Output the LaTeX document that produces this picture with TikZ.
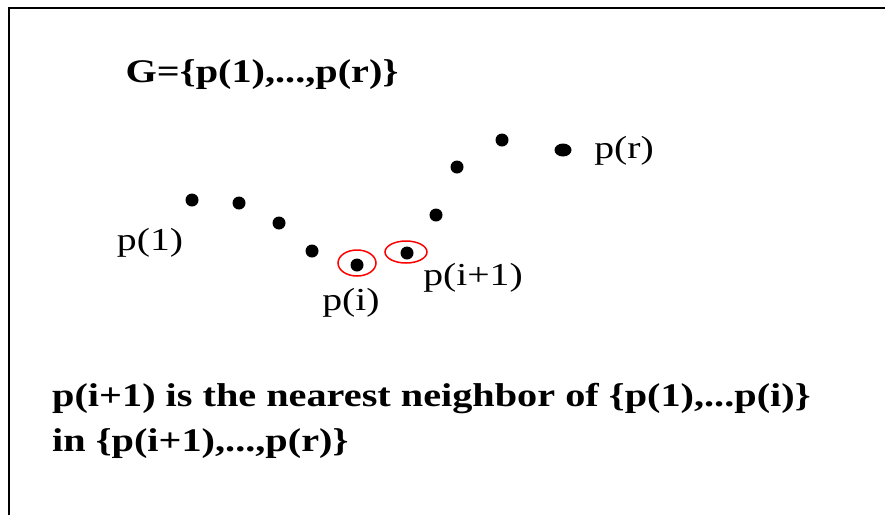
\documentclass[tikz,border=0pt]{standalone}
\usepackage{fontspec}
\setmainfont{Liberation Serif}
\newfontfamily\etiqfont{Liberation Serif}[FakeStretch=1.24]
\newfontfamily\negritafont{Liberation Serif}[FakeStretch=1.22]
\usetikzlibrary{shapes.geometric}

\begin{document}
\begin{tikzpicture}[x=1pt, y=-1pt,
			 punto/.style={ellipse, fill, inner sep=0pt, minimum width=13pt, minimum height=13pt},
			 etiqueta/.style={font=\etiqfont\fontsize{32}{32}\selectfont, inner sep=0pt},
			 texto/.style={font=\negritafont\bfseries\fontsize{33}{33}\selectfont, inner sep=0pt},
			 marca/.style={draw=red, line width=1.5pt}
  		]
	\useasboundingbox (0,0) rectangle (885,515);

	%Marco
		\draw[line width=2pt] (9,515) -- (9,8) -- (885,8);

	%Titulo
		\node[texto] (g) at (262,75) {G=\{p(1),...,p(r)\}};

	%Creamos los puntos
		\node[punto] (p1) at (192,200) {};
		\node[punto] (p2) at (239,203) {};
		\node[punto] (p3) at (279,223) {};
		\node[punto] (p4) at (312,251) {};
		\node[punto] (pi) at (357,265) {};
		\node[punto] (pi1) at (407,253) {};
		\node[punto] (p7) at (436,215) {};
		\node[punto] (p8) at (457,167) {};
		\node[punto] (p9) at (502,140) {};
		\node[punto, minimum width=17pt] (pr) at (563,150) {};

	%Marcas rojas
		\draw[marca] (357,263) ellipse (19 and 13);
		\draw[marca] (406,252) ellipse (21 and 11);

	%Etiquetas
		\node[etiqueta] (e1) at (150,243) {p(1)};
		\node[etiqueta] (ei) at (351,303) {p(i)};
		\node[etiqueta] (ei1) at (473,278) {p(i+1)};
		\node[etiqueta] (er) at (624,151) {p(r)};

	%Texto de abajo
		\node[texto, anchor=base west] (l1) at (52,406) {p(i+1) is the nearest neighbor of \{p(1),...p(i)\}};
		\node[texto, anchor=base west] (l2) at (52,451) {in \{p(i+1),...,p(r)\}};
\end{tikzpicture}
\end{document}
